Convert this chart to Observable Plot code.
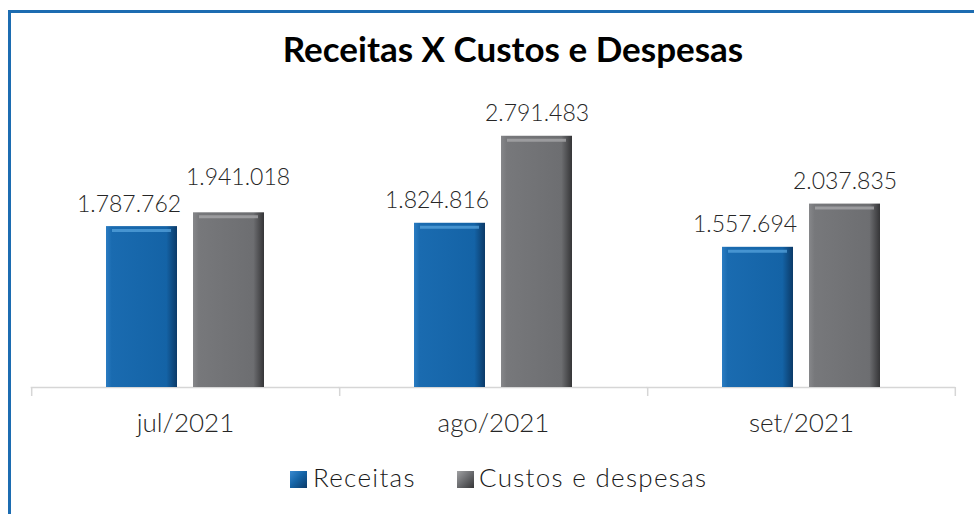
<!DOCTYPE html>
<html>
<head>
<meta charset="utf-8">
<script src="https://cdn.jsdelivr.net/npm/d3@7"></script>
<script src="https://cdn.jsdelivr.net/npm/@observablehq/plot@0.6"></script>
<style>
  html, body { margin: 0; padding: 0; background: #fff; }
  #wrap { position: relative; width: 974px; height: 514px; overflow: hidden; font-family: Lato, "Noto Sans", sans-serif; }
  #frame { position: absolute; left: 8px; top: 10px; width: 1100px; height: 700px;
           border-left: 3px solid #1c6cb1; border-top: 3px solid #1c6cb1; box-sizing: border-box; }
  #title { position: absolute; left: 513px; top: 31px; transform: translateX(-50%);
           font-weight: 700; font-size: 35px; white-space: nowrap; color: #000; line-height: 1; }
  #chart { position: absolute; left: 0; top: 0; }
  .sw { position: absolute; width: 17px; height: 17px; top: 471px; }
  .lt { position: absolute; top: 462px; font-size: 26px; line-height: 1.2; color: #1a1a1a; white-space: nowrap;
        letter-spacing: 1.3px; font-weight: 300; }
</style>
</head>
<body>
<div id="wrap">
  <div id="frame"></div>
  <div id="chart"></div>
  <div id="title"></div>
  <div id="legend"></div>
</div>
<script>
const title = "Receitas X Custos e Despesas";
const months = ["jul/2021", "ago/2021", "set/2021"];
const series = ["Receitas", "Custos e despesas"];
const receitas = [1787762, 1824816, 1557694];
const custos = [1941018, 2791483, 2037835];

const fmt = d3.formatLocale({decimal: ",", thousands: ".", grouping: [3], currency: ["R$", ""]}).format(",d");

const table = months.flatMap((m, i) => [
  {month: m, series: series[0], value: receitas[i]},
  {month: m, series: series[1], value: custos[i]}
]);
const rec = table.filter(d => d.series === series[0]);
const cus = table.filter(d => d.series === series[1]);
// the first gray label is lifted in the original to clear its neighbour
const cusFirst = cus.filter(d => d.month === months[0]);
const cusRest = cus.filter(d => d.month !== months[0]);

const axisColor = "#d6d6d6";
const outer = 74.3;          // half of gap between groups (px)
const half = 36;             // half bar width (px)
const labelStyle = {fx: "month", x: "series", y: "value", text: d => fmt(d.value),
  lineAnchor: "bottom", fontSize: 23, fontWeight: 300, fill: "#262626"};

const chart = Plot.plot({
  width: 974,
  height: 446,
  marginLeft: 31,
  marginRight: 19,
  marginTop: 117,
  marginBottom: 59,
  fx: {domain: months, paddingInner: 0.482, paddingOuter: 0.241, label: null},
  x: {domain: series, paddingInner: 0.18, paddingOuter: 0, axis: null},
  y: {domain: [0, 3000000], axis: null},
  marks: [
    Plot.ruleY([0], {stroke: axisColor, strokeWidth: 1.5, insetLeft: -outer, insetRight: -outer}),
    Plot.ruleX(months, {fx: d => d, x: () => series[0], y1: 0, y2: 0, dx: -(outer + half),
      insetBottom: -9, stroke: axisColor, strokeWidth: 1.5}),
    Plot.ruleX([months[months.length - 1]], {fx: d => d, x: () => series[1], y1: 0, y2: 0, dx: outer + half,
      insetBottom: -9, stroke: axisColor, strokeWidth: 1.5}),
    Plot.barY(rec, {fx: "month", x: "series", y: "value", fill: "url(#gBlue)"}),
    Plot.barY(cus, {fx: "month", x: "series", y: "value", fill: "url(#gGray)"}),
    Plot.tickY(rec, {fx: "month", x: "series", y: "value", dy: 4, stroke: "#5aa6e0", strokeOpacity: 0.7,
      strokeWidth: 3, insetLeft: 6, insetRight: 6}),
    Plot.tickY(cus, {fx: "month", x: "series", y: "value", dy: 4, stroke: "#a9aaac", strokeOpacity: 0.75,
      strokeWidth: 3, insetLeft: 6, insetRight: 6}),
    Plot.text(rec, {...labelStyle, dy: -15, dx: -13}),
    Plot.text(cusFirst, {...labelStyle, dy: -28, dx: 9}),
    Plot.text(cusRest, {...labelStyle, dy: -15}),
    Plot.axisFx({anchor: "bottom", tickSize: 0, tickPadding: 26, fontSize: 26, fontWeight: 300, label: null, fill: "#262626"})
  ],
  style: {fontFamily: "Lato, 'Noto Sans', sans-serif", background: "transparent", overflow: "visible"}
});

d3.select(chart).insert("defs", ":first-child").html(`
  <linearGradient id="gBlue" x1="0" x2="1" y1="0" y2="0">
    <stop offset="0" stop-color="#2a7cc2"/>
    <stop offset="0.08" stop-color="#1a6bb0"/>
    <stop offset="0.85" stop-color="#1463a6"/>
    <stop offset="1" stop-color="#0b3a68"/>
  </linearGradient>
  <linearGradient id="gGray" x1="0" x2="1" y1="0" y2="0">
    <stop offset="0" stop-color="#86878a"/>
    <stop offset="0.08" stop-color="#77787b"/>
    <stop offset="0.85" stop-color="#6d6e71"/>
    <stop offset="1" stop-color="#353537"/>
  </linearGradient>`);

document.getElementById("chart").appendChild(chart);
document.getElementById("title").textContent = title;

const legend = document.getElementById("legend");
const legendItems = [
  {label: series[0], swatch: "linear-gradient(135deg, #3a8ad0 0%, #1565a8 45%, #0b3a68 100%)", sx: 290, tx: 313},
  {label: series[1], swatch: "linear-gradient(135deg, #a0a1a3 0%, #6f7073 45%, #353537 100%)", sx: 457, tx: 479}
];
legendItems.forEach(it => {
  const s = document.createElement("div");
  s.className = "sw"; s.style.left = it.sx + "px"; s.style.background = it.swatch;
  const t = document.createElement("div");
  t.className = "lt"; t.style.left = it.tx + "px"; t.textContent = it.label;
  legend.appendChild(s); legend.appendChild(t);
});
</script>
</body>
</html>
